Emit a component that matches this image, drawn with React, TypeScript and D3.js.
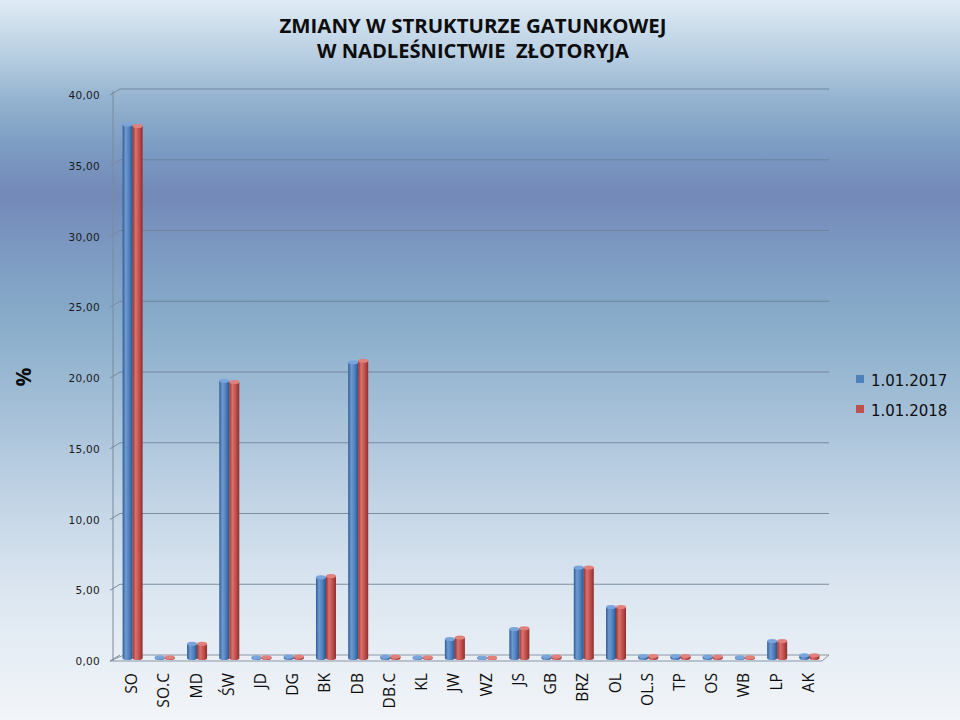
import React from "react";
import * as d3 from "d3";

const categories = ["SO", "SO.C", "MD", "ŚW", "JD", "DG", "BK", "DB", "DB.C", "KL", "JW", "WZ", "JS", "GB", "BRZ", "OL", "OL.S", "TP", "OS", "WB", "LP", "AK"];
const series2017 = [37.7, 0.05, 1.0, 19.6, 0.05, 0.1, 5.7, 20.9, 0.1, 0.05, 1.35, 0.02, 2.05, 0.1, 6.4, 3.6, 0.15, 0.15, 0.1, 0.05, 1.2, 0.2];
const series2018 = [37.6, 0.05, 1.0, 19.5, 0.05, 0.1, 5.8, 21.0, 0.1, 0.05, 1.45, 0.02, 2.1, 0.1, 6.4, 3.6, 0.15, 0.15, 0.1, 0.05, 1.2, 0.2];
const seriesNames = ["1.01.2017", "1.01.2018"];
const yTicks = [0, 5, 10, 15, 20, 25, 30, 35, 40];

const W = 960;
const H = 720;
const DX = 7;

export default function App() {
  const x = d3.scaleBand<string>().domain(categories).range([113, 822]);
  const sub = d3.scaleBand<number>().domain([0, 1]).range([0, 20]);
  const yFront = d3.scaleLinear().domain([0, 40]).range([661, 95]);
  const yBack = d3.scaleLinear().domain([0, 40]).range([655, 89]);
  const yMid = d3.scaleLinear().domain([0, 40]).range([658, 92]);
  const fmt = (v: number) => d3.format(".2f")(v).replace(".", ",");
  const values = [series2017, series2018];
  const grads = ["gBlue", "gRed"];
  const caps = ["#7aa5dc", "#e2807c"];
  const x0 = 113, x1 = 822;

  return (
    <svg width={W} height={H} style={{ position: "absolute", left: 0, top: 0 }}>
      <defs>
        <linearGradient id="bg" x1="0" y1="0" x2="0" y2="1">
          <stop offset="0" stopColor="#dfebf5" />
          <stop offset="0.08" stopColor="#b6cde1" />
          <stop offset="0.14" stopColor="#93b2cf" />
          <stop offset="0.2" stopColor="#7d9dc4" />
          <stop offset="0.27" stopColor="#7389b8" />
          <stop offset="0.34" stopColor="#7b98c1" />
          <stop offset="0.45" stopColor="#89adca" />
          <stop offset="0.58" stopColor="#a7c1d9" />
          <stop offset="0.7" stopColor="#c3d5e6" />
          <stop offset="0.83" stopColor="#dde7f1" />
          <stop offset="1" stopColor="#f2f5f9" />
        </linearGradient>
        <linearGradient id="gBlue" x1="0" y1="0" x2="1" y2="0">
          <stop offset="0" stopColor="#2f5b93" />
          <stop offset="0.3" stopColor="#6e9ad3" />
          <stop offset="0.65" stopColor="#4f81bd" />
          <stop offset="1" stopColor="#2c5488" />
        </linearGradient>
        <linearGradient id="gRed" x1="0" y1="0" x2="1" y2="0">
          <stop offset="0" stopColor="#953330" />
          <stop offset="0.3" stopColor="#dc716d" />
          <stop offset="0.65" stopColor="#c0504d" />
          <stop offset="1" stopColor="#8c2f2c" />
        </linearGradient>
      </defs>
      <rect x={0} y={0} width={W} height={H} fill="url(#bg)" />

      <text x={473} y={33} textAnchor="middle" fontFamily="Open Sans" fontWeight="bold" fontSize={20} textLength={387} lengthAdjust="spacingAndGlyphs" fill="#0d0d0d">
        ZMIANY W STRUKTURZE GATUNKOWEJ
      </text>
      <text x={473} y={58} textAnchor="middle" fontFamily="Open Sans" fontWeight="bold" fontSize={20} textLength={312} lengthAdjust="spacingAndGlyphs" fill="#0d0d0d" style={{ whiteSpace: "pre" }}>
        W NADLEŚNICTWIE  ZŁOTORYJA
      </text>

      <polygon
        points={`${x0 - 3},${yFront(0)} ${x1},${yFront(0)} ${x1 + DX},${yBack(0)} ${x0 + DX + 4},${yBack(0)}`}
        fill="#e9eff5"
        stroke="#8a97a5"
        strokeWidth={1}
      />

      {yTicks.filter((t) => t > 0).map((t) => (
        <line key={"g" + t} x1={x0 + DX} x2={x1 + DX} y1={yBack(t)} y2={yBack(t)} stroke="#6b7f92" strokeOpacity={0.85} strokeWidth={1} />
      ))}
      {yTicks.map((t) => (
        <line key={"d" + t} x1={x0 - 3} x2={x0 + DX} y1={yFront(t)} y2={yBack(t)} stroke="#7a8a9a" strokeWidth={1} />
      ))}
      <line x1={x0} x2={x0} y1={yFront(40) - 4} y2={yFront(0)} stroke="#7a8a9a" strokeWidth={1} />

      {yTicks.map((t) => (
        <text key={"t" + t} x={100} y={yFront(t) + 4} textAnchor="end" fontFamily="DejaVu Sans" fontSize={10.5} letterSpacing={0.3} fill="#1a1a1a">
          {fmt(t)}
        </text>
      ))}

      {categories.map((c, i) => {
        const bx = (x(c) as number) + x.bandwidth() / 2 - 10 + 3.5;
        return (
          <g key={c}>
            {values.map((vals, s) => {
              const v = vals[i];
              const w = sub.bandwidth();
              const left = bx + (sub(s) as number);
              const top = yMid(v);
              const base = yMid(0);
              return (
                <g key={s}>
                  <ellipse cx={left + w / 2} cy={base} rx={w / 2} ry={2} fill={`url(#${grads[s]})`} />
                  <rect x={left} y={top} width={w} height={Math.max(0, base - top)} fill={`url(#${grads[s]})`} />
                  <ellipse cx={left + w / 2} cy={top} rx={w / 2} ry={2} fill={caps[s]} />
                </g>
              );
            })}
          </g>
        );
      })}

      {categories.map((c) => {
        const cx = (x(c) as number) + x.bandwidth() / 2 + 2;
        return (
          <text
            key={"l" + c}
            transform={`translate(${cx + 6},${673}) rotate(-90) scale(0.92,1)`}
            textAnchor="end"
            fontFamily="Open Sans"
            fontSize={17}
            fill="#0d0d0d"
          >
            {c}
          </text>
        );
      })}

      <text transform={`translate(31,377) rotate(-90)`} textAnchor="middle" fontFamily="Open Sans" fontWeight="bold" fontSize={21} fill="#0d0d0d">
        %
      </text>

      {seriesNames.map((n, s) => (
        <g key={n}>
          <rect x={856} y={375 + s * 30} width={8} height={8} fill={s === 0 ? "#4f81bd" : "#c0504d"} />
          <text x={871} y={386 + s * 30} fontFamily="DejaVu Sans" fontSize={15} fill="#0d0d0d">
            {n}
          </text>
        </g>
      ))}
    </svg>
  );
}
